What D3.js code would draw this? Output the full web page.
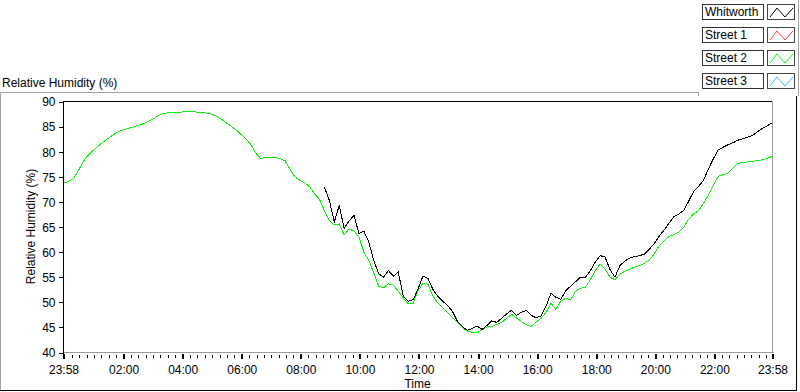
<!DOCTYPE html>
<html>
<head>
<meta charset="utf-8">
<script src="https://cdn.jsdelivr.net/npm/d3@7"></script>
<style>
  body { margin: 0; background: #fff; }
  svg text { font-family: "Liberation Sans", Arial, sans-serif; font-size: 12px; fill: #000; }
</style>
</head>
<body>
<div id="chart"></div>
<script>
// legend entries (only Whitworth and Street 2 carry data)
var seriesNames = ["Whitworth", "Street 1", "Street 2", "Street 3"];
var seriesColors = ["#000000", "#ff3c3c", "#10ee10", "#3cb4ff"];

// x ticks, minutes after 23:58
var tickMinutes = [0, 122, 242, 362, 482, 602, 722, 842, 962, 1082, 1202, 1322, 1440];
var tickLabels = ["23:58", "02:00", "04:00", "06:00", "08:00", "10:00", "12:00",
                  "14:00", "16:00", "18:00", "20:00", "22:00", "23:58"];
var yTicks = [40, 45, 50, 55, 60, 65, 70, 75, 80, 85, 90];

// samples every 10 min from 23:58
var street2 = [
  73.7, 74.1, 74.6, 76.2, 78.0, 79.3, 80.2, 81.1, 81.9, 82.6,
  83.3, 83.9, 84.3, 84.6, 84.9, 85.2, 85.5, 85.9, 86.4, 87.0,
  87.5, 87.7, 87.9, 87.8, 87.9, 88.0, 88.0, 87.9, 87.8, 87.7,
  87.5, 87.1, 86.5, 85.8, 85.1, 84.4, 83.5, 82.6, 81.5, 79.8,
  78.7, 78.8, 78.9, 78.8, 78.6, 78.2, 76.5, 75.0, 74.3, 73.8,
  73.0, 71.6, 70.5, 68.2, 66.3, 65.4, 65.6, 63.4, 64.6, 64.2,
  63.0, 60.0, 58.4, 55.9, 53.2, 52.9, 53.7, 53.4, 52.2, 50.9,
  49.7, 49.8, 52.3, 53.8, 53.6, 51.3, 49.9, 49.0, 48.0, 47.0,
  46.0, 45.0, 44.3, 44.0, 43.9, 44.5, 45.1, 45.2, 45.6, 46.0,
  46.8, 47.6, 46.9, 46.2, 45.5, 45.2, 46.1, 46.8, 48.0, 49.8,
  48.6, 50.2, 50.8, 50.5, 52.2, 52.8, 53.0, 54.5, 56.3, 57.6,
  56.6, 55.0, 54.5, 55.6, 56.2, 56.6, 57.0, 57.3, 57.8, 58.4,
  59.7, 61.3, 62.3, 63.1, 63.5, 64.0, 65.0, 66.6, 67.6, 68.3,
  69.7, 71.4, 73.4, 75.1, 75.4, 75.8, 76.8, 77.7, 77.8, 78.0,
  78.1, 78.2, 78.4, 78.7, 79.1
];

// Whitworth starts at sample 53 (about 08:48)
var whitworthStart = 53;
var whitworth = [
  72.9, 70.3, 66.0, 69.3, 64.7, 66.2, 67.3, 63.7, 64.2, 62.0,
  58.4, 55.7, 55.0, 56.3, 55.2, 56.0, 51.2, 50.2, 50.5, 52.6,
  55.2, 54.8, 52.6, 51.2, 50.2, 49.4, 48.2, 46.2, 45.2, 44.4,
  44.8, 45.3, 44.6, 45.4, 46.3, 46.0, 46.8, 47.7, 48.4, 47.4,
  48.0, 48.4, 47.4, 46.9, 47.3, 49.2, 51.8, 51.0, 50.6, 52.3,
  53.2, 54.1, 55.0, 55.0, 56.3, 58.0, 59.3, 59.0, 56.5, 55.0,
  57.3, 58.2, 58.8, 59.1, 59.3, 59.6, 60.6, 61.7, 63.2, 64.4,
  65.8, 67.1, 67.6, 68.3, 70.2, 72.1, 73.1, 74.3, 76.6, 78.6,
  80.4, 80.9, 81.4, 81.8, 82.3, 82.6, 82.9, 83.3, 84.0, 84.7,
  85.2, 85.8
];

var width = 800, height = 392;
var plot = {left: 63, right: 772, top: 101, bottom: 352};

var svg = d3.select("#chart").append("svg")
  .attr("width", width)
  .attr("height", height);

var x = d3.scaleLinear().domain([0, 1440]).range([plot.left, plot.right]);
var y = d3.scaleLinear().domain([40, 90]).range([plot.bottom, plot.top]);

// outer panel frame
var frame = svg.append("g").attr("shape-rendering", "crispEdges");
frame.append("line").attr("x1", 0.5).attr("x2", 0.5).attr("y1", 92).attr("y2", 391).style("stroke", "#a0a0a0");
frame.append("line").attr("x1", 0).attr("x2", 698).attr("y1", 92.5).attr("y2", 92.5).style("stroke", "#a0a0a0");
frame.append("line").attr("x1", 698.5).attr("x2", 698.5).attr("y1", 92).attr("y2", 96).style("stroke", "#a0a0a0");
frame.append("line").attr("x1", 798.5).attr("x2", 798.5).attr("y1", 0).attr("y2", 96).style("stroke", "#a0a0a0");
frame.append("line").attr("x1", 796.5).attr("x2", 796.5).attr("y1", 96).attr("y2", 391).style("stroke", "#000");
frame.append("line").attr("x1", 0).attr("x2", 797).attr("y1", 390.5).attr("y2", 390.5).style("stroke", "#000");

svg.append("text")
  .attr("x", 2)
  .attr("y", 87)
  .text("Relative Humidity (%)");

// plot area border: dark top/left, light bottom/right
var border = svg.append("g").attr("shape-rendering", "crispEdges");
border.append("line").attr("x1", plot.left).attr("x2", plot.right + 1).attr("y1", plot.top + 0.5).attr("y2", plot.top + 0.5).style("stroke", "#000");
border.append("line").attr("x1", plot.right + 0.5).attr("x2", plot.right + 0.5).attr("y1", plot.top).attr("y2", plot.bottom + 1).style("stroke", "#9a9a9a");

// y axis
var yAxis = svg.append("g")
  .attr("transform", "translate(" + (plot.left + 0.5) + ",0.5)")
  .call(d3.axisLeft(y).tickValues(yTicks).tickSize(5).tickPadding(3));
yAxis.select(".domain").attr("d", "M0," + plot.top + "V" + plot.bottom).style("stroke", "#000");
yAxis.selectAll("line").style("stroke", "#000");
yAxis.selectAll("text").style("font-size", "12px").style("font-family", null).attr("dy", "0.36em");
yAxis.attr("shape-rendering", "crispEdges");

// x axis minor ticks every 15 min
var minorTicks = d3.range(17, 1440, 15).filter(function(m) {
  return tickMinutes.indexOf(m) < 0;
});
var xMinor = svg.append("g")
  .attr("transform", "translate(0.5," + (plot.bottom + 1.5) + ")")
  .call(d3.axisBottom(x).tickValues(minorTicks).tickSize(4).tickFormat(""));
xMinor.select(".domain").remove();
xMinor.selectAll("line").attr("y1", 1).style("stroke", "#000");
xMinor.attr("shape-rendering", "crispEdges");

var xAxis = svg.append("g")
  .attr("transform", "translate(0.5," + (plot.bottom + 0.5) + ")")
  .call(d3.axisBottom(x).tickValues(tickMinutes).tickSize(6).tickPadding(7)
    .tickFormat(function(d, i) { return tickLabels[i]; }));
xAxis.select(".domain").attr("d", "M" + plot.left + ",0H" + (plot.right + 1)).style("stroke", "#9a9a9a");
xAxis.selectAll("line").attr("y1", 1).style("stroke", "#000").style("stroke-width", 2);
xAxis.selectAll("text").style("font-size", "12px").style("font-family", null);
xAxis.attr("shape-rendering", "crispEdges");

svg.append("text")
  .attr("x", (plot.left + plot.right) / 2)
  .attr("y", 388)
  .style("text-anchor", "middle")
  .text("Time");

svg.append("text")
  .attr("transform", "translate(35," + ((plot.top + plot.bottom) / 2) + ") rotate(-90)")
  .style("text-anchor", "middle")
  .text("Relative Humidity (%)");

// series lines, drawn aliased like the original instrument plot
var line = d3.line()
  .x(function(d) { return x(d.t) + 0.5; })
  .y(function(d) { return y(d.v) + 0.5; });

var greenData = street2.map(function(v, i) { return {t: i * 10, v: v}; });
var blackData = whitworth.map(function(v, i) { return {t: (whitworthStart + i) * 10, v: v}; });

svg.append("path")
  .datum(greenData)
  .attr("d", line)
  .attr("shape-rendering", "crispEdges")
  .style("fill", "none")
  .style("stroke", seriesColors[2])
  .style("stroke-width", 1);

svg.append("path")
  .datum(blackData)
  .attr("d", line)
  .attr("shape-rendering", "crispEdges")
  .style("fill", "none")
  .style("stroke", seriesColors[0])
  .style("stroke-width", 1);

// legend
var legend = svg.selectAll(".legend")
  .data(seriesNames)
  .enter()
  .append("g")
  .attr("class", "legend")
  .attr("transform", function(d, i) { return "translate(702," + (4 + i * 23) + ")"; });

legend.append("rect")
  .attr("x", 0.5).attr("y", 0.5)
  .attr("width", 61).attr("height", 15)
  .style("fill", "#fff")
  .style("stroke", "#333")
  .attr("shape-rendering", "crispEdges");

legend.append("text")
  .attr("x", 3)
  .attr("y", 12)
  .text(function(d) { return d; });

legend.append("rect")
  .attr("x", 65.5).attr("y", 0.5)
  .attr("width", 27).attr("height", 15)
  .style("fill", "#fff")
  .style("stroke", "#444")
  .attr("shape-rendering", "crispEdges");

legend.append("path")
  .attr("d", "M68,13L75,4L83,13L91,4")
  .style("fill", "none")
  .style("stroke", function(d, i) { return seriesColors[i]; })
  .style("stroke-width", 1);
</script>
</body>
</html>
